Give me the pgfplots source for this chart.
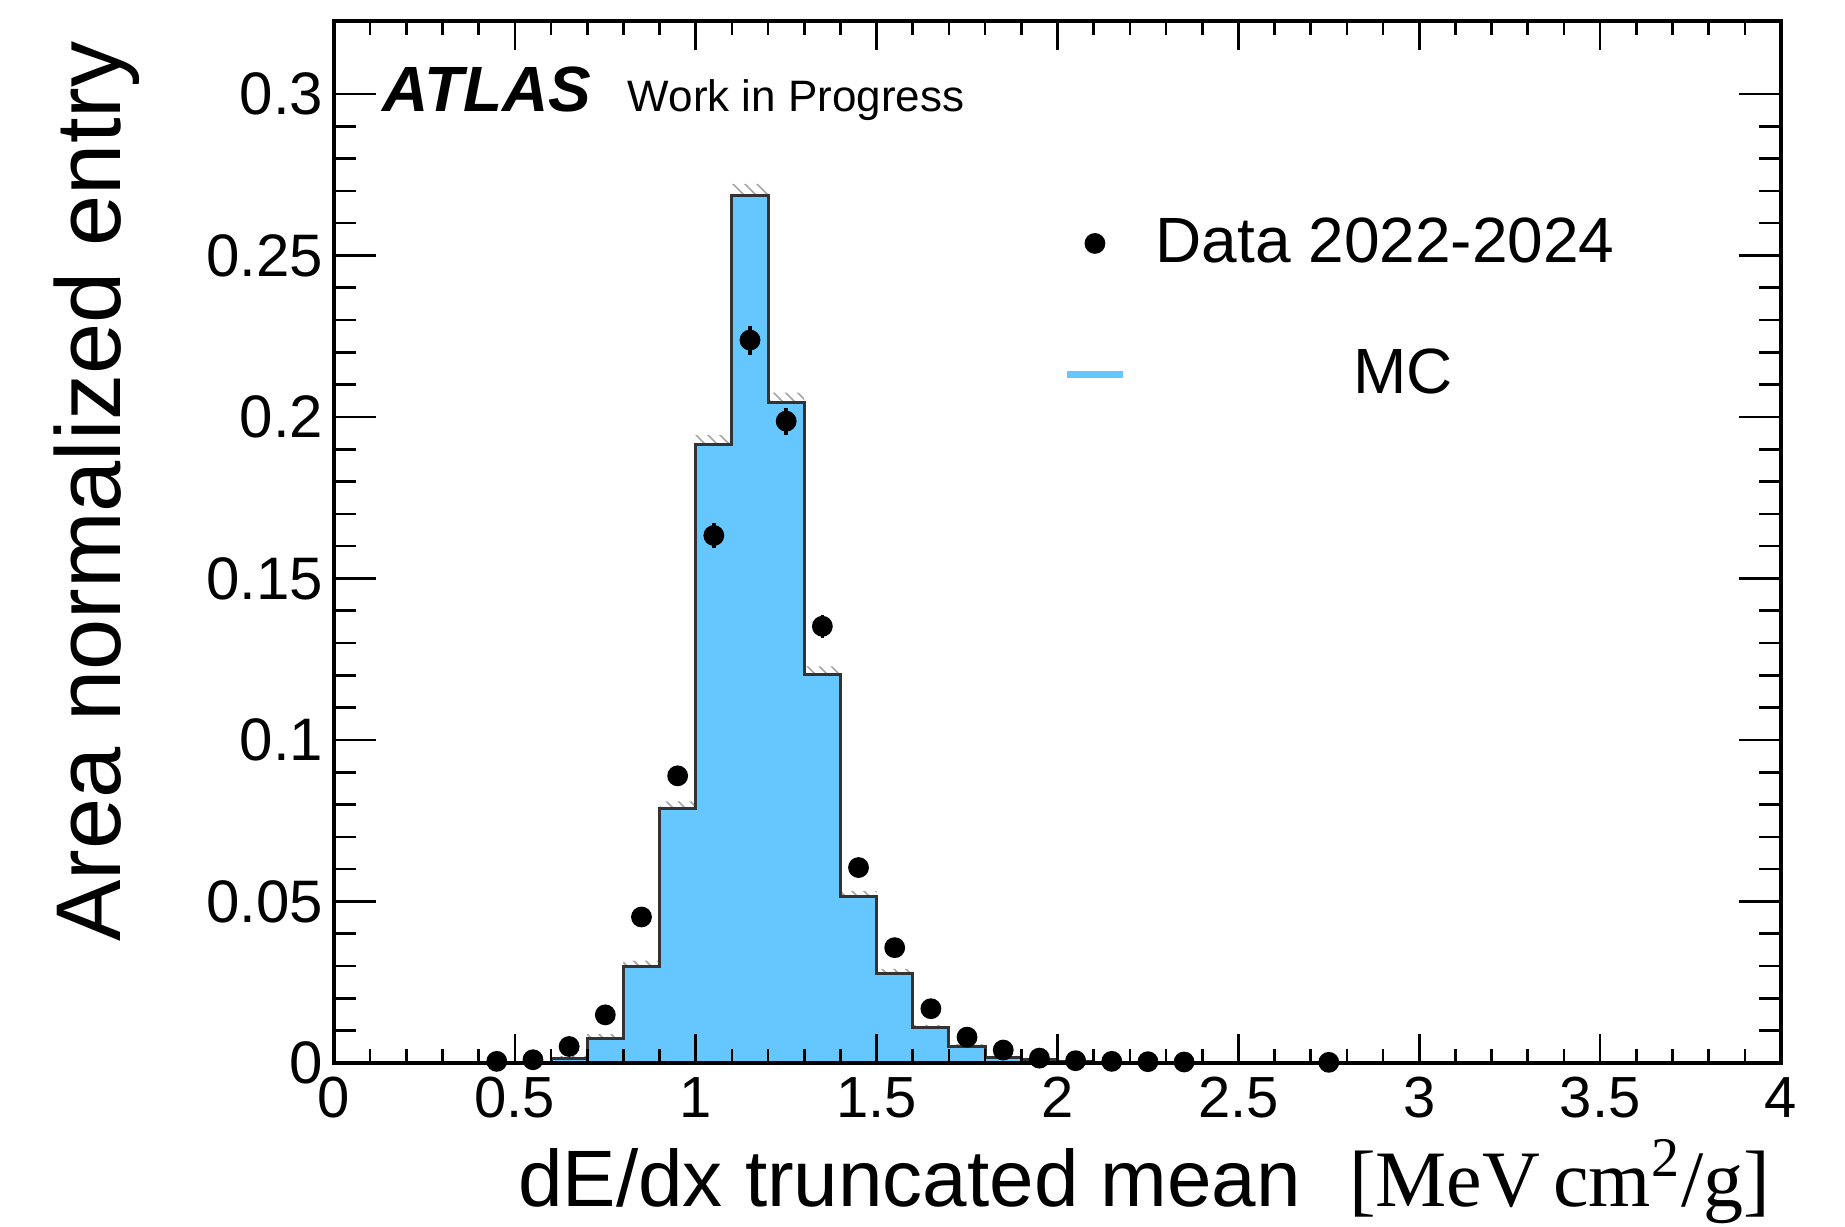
\documentclass[border=0pt]{standalone}
\usepackage{pgfplots}
\pgfplotsset{compat=1.18}
\usepackage{pgfplotstable}
\usepgfplotslibrary{fillbetween}
\usetikzlibrary{patterns}
\usepackage{fontspec}
\setmainfont{Liberation Sans}
\newfontfamily\timesfont{Liberation Serif}
\definecolor{mcblue}{RGB}{102,199,255}

\pgfplotstableread{
x    y      up     lo
0.5  0.0003 0.0006 0.0000
0.6  0.0015 0.0022 0.0008
0.7  0.0077 0.0089 0.0065
0.8  0.0299 0.0317 0.0281
0.9  0.0787 0.0810 0.0764
1.0  0.1914 0.1944 0.1884
1.1  0.2687 0.2722 0.2652
1.2  0.2045 0.2075 0.2015
1.3  0.1203 0.1228 0.1178
1.4  0.0514 0.0532 0.0496
1.5  0.0277 0.0291 0.0263
1.6  0.0109 0.0118 0.0100
1.7  0.0051 0.0058 0.0044
1.8  0.0018 0.0022 0.0014
1.9  0.0010 0.0013 0.0007
2.0  0.0004 0.0006 0.0002
2.1  0.0000 0.0000 0.0000
}\mctable

\pgfplotstableread{
x    y      ey
0.45 0.0005 0.0003
0.55 0.0010 0.0004
0.65 0.0051 0.0008
0.75 0.0149 0.0012
0.85 0.0452 0.0020
0.95 0.0889 0.0028
1.05 0.1633 0.0038
1.15 0.2238 0.0045
1.25 0.1987 0.0042
1.35 0.1352 0.0035
1.45 0.0605 0.0024
1.55 0.0357 0.0018
1.65 0.0168 0.0013
1.75 0.0080 0.0009
1.85 0.0040 0.0006
1.95 0.0015 0.0004
2.05 0.0007 0.0003
2.15 0.0005 0.0002
2.25 0.0004 0.0002
2.35 0.0003 0.0002
2.75 0.0002 0.0001
}\datatable

\begin{document}
\begin{tikzpicture}
\begin{axis}[name=ax, scale only axis, width=361.75pt, height=260.5pt,
  xmin=0, xmax=4, ymin=0, ymax=0.3226,
  xtick={0,0.5,1,1.5,2,2.5,3,3.5,4},
  xticklabels={0,0.5,1,1.5,2,2.5,3,3.5,4},
  minor x tick num=4,
  ytick=\empty,
  tick align=inside,
  major tick length=7.3pt, minor tick length=3.5pt,
  axis line style={line width=1pt},
  every tick/.style={black, line width=0.65pt},
  xticklabel style={font=\fontsize{14.5}{14.5}\selectfont},
  /pgf/number format/assume math mode=true,
  axis on top=true,
  clip=false,
  legend style={draw=none, fill=none, inner sep=0pt, outer sep=0pt,
    at={(rel axis cs:0.5041,0.8185)}, anchor=north west,
    font=\fontsize{16}{16}\selectfont, row sep=16.1pt, column sep=5.3pt},
  legend cell align=left,
]
\addplot[const plot, fill=mcblue, draw=black!80, line width=0.75pt, forget plot]
  table[x=x, y=y] {\mctable} \closedcycle;
\addplot[const plot, draw=none, name path=up, forget plot] table[x=x, y=up] {\mctable};
\addplot[const plot, draw=none, name path=lo, forget plot] table[x=x, y=lo] {\mctable};
\addplot[pattern=north west lines, pattern color=gray!70, draw=none, forget plot] fill between[of=up and lo];

\addplot[only marks, mark=*, mark size=2.4pt, black,
  error bars/.cd, y dir=both, y explicit, error mark=none,
  error bar style={line width=0.9pt, black}]
  table[x=x, y=y, y error=ey] {\datatable};
\addlegendentry{Data 2022-2024}
\addlegendimage{legend image code/.code={\draw[line width=1.75pt, mcblue] (1.54pt,0pt) -- (15.54pt,0pt);}}
\addlegendentry{\hspace*{49.5pt}MC}

\node[anchor=base west, inner sep=0pt, font=\fontsize{16}{16}\selectfont\bfseries\itshape] at (rel axis cs:0.0333,0.9129) {ATLAS};
\node[anchor=base west, inner sep=0pt, font=\fontsize{11}{11}\selectfont] at (rel axis cs:0.2025,0.9129) {Work in Progress};
\node[anchor=base east, inner sep=0pt, font=\fontsize{20}{20}\selectfont] at (rel axis cs:0.993,-0.138) {dE/dx truncated mean\hspace{0.6em}{\timesfont [MeV\,cm\textsuperscript{2}/g]}};
\node[anchor=base east, rotate=90, inner sep=0pt, font=\fontsize{23}{23}\selectfont] at (rel axis cs:-0.1472,0.981) {Area normalized entry};
\end{axis}
\begin{axis}[scale only axis, width=361.75pt, height=260.5pt,
  xmin=0, xmax=4, ymin=0, ymax=0.3226,
  xtick=\empty,
  ytick={0,0.05,0.1,0.15,0.2,0.25,0.3},
  yticklabels={0,0.05,0.1,0.15,0.2,0.25,0.3},
  minor y tick num=4,
  tick align=inside,
  major tick length=10.5pt, minor tick length=5.5pt,
  axis line style={line width=1pt},
  every tick/.style={black, line width=0.65pt},
  yticklabel style={font=\fontsize{15}{15}\selectfont, inner xsep=2.5pt},
  /pgf/number format/assume math mode=true,
]
\end{axis}
\pgfresetboundingbox
\path[use as bounding box] (ax.south west) ++(-83.5pt,-41pt) rectangle ++(461.25pt,306.75pt);
\end{tikzpicture}
\end{document}
